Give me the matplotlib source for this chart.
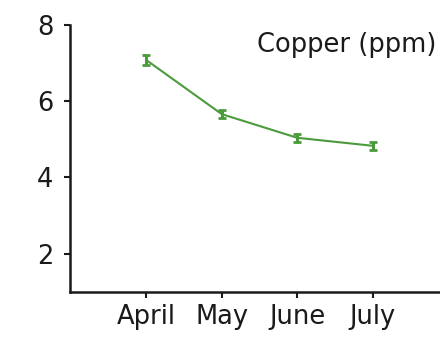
import matplotlib
matplotlib.use("Agg")
import matplotlib.pyplot as plt
import numpy as np

plt.rcParams['font.family'] = ['DejaVu Sans']

months = ["April", "May", "June", "July"]
copper = [7.08, 5.66, 5.04, 4.83]
copper_err = [0.12, 0.11, 0.1, 0.1]

fig = plt.figure(figsize=(4.4, 3.37), dpi=100)
ax = fig.add_axes([0.159, 0.134, 0.86, 0.792])

x = np.arange(len(months))
ax.errorbar(x, copper, yerr=copper_err, color='#4b9b3c', lw=1.5,
            capsize=3, capthick=2, elinewidth=2.2)

ax.set_xlim(-1.01, 4.0)
ax.set_ylim(1, 8)
ax.set_xticks(x)
ax.set_xticklabels(months)
ax.set_yticks([2, 4, 6, 8])

ax.spines['top'].set_visible(False)
ax.spines['right'].set_visible(False)
for s in ['left', 'bottom']:
    ax.spines[s].set_linewidth(1.8)
    ax.spines[s].set_color('#1a1a1a')
ax.tick_params(axis='both', length=4, width=1.5, labelsize=18.5, colors='#1a1a1a')
ax.tick_params(axis='y', pad=8)
ax.tick_params(axis='x', pad=5)

ax.text(0.968, 0.925, "Copper (ppm)", transform=ax.transAxes, ha='right', va='center',
        fontsize=18.5, color='#1a1a1a')

fig.savefig("out.png")
